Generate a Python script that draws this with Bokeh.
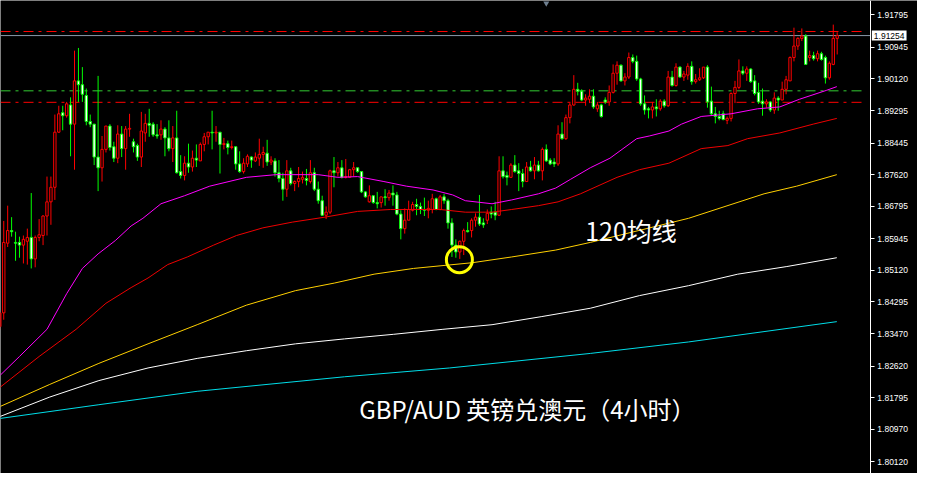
from bokeh.plotting import figure
from bokeh.models import Range1d, FixedTicker, PrintfTickFormatter, Label, ColumnDataSource
from bokeh.embed import file_html
from bokeh.resources import INLINE

# ---------------- data (GBP/AUD, 4h candles) ----------------
open_ = [1.8365,1.8401,1.8583,1.8616,1.8585,1.8585,1.8578,1.8588,1.8598,1.8542,
         1.8598,1.8603,1.8654,1.8691,1.8729,1.8873,1.8924,1.8916,1.8944,1.8894,
         1.9007,1.8997,1.8969,1.8901,1.8894,1.8808,1.8780,1.8828,1.8889,1.8835,
         1.8805,1.8868,1.8830,1.8881,1.8848,1.8838,1.8808,1.8871,1.8896,1.8894,
         1.8866,1.8866,1.8881,1.8858,1.8830,1.8858,1.8770,1.8760,1.8792,1.8782,
         1.8805,1.8798,1.8841,1.8861,1.8873,1.8871,1.8873,1.8841,1.8843,1.8833,
         1.8835,1.8790,1.8770,1.8790,1.8808,1.8798,1.8805,1.8815,1.8818,1.8795,
         1.8798,1.8767,1.8752,1.8724,1.8772,1.8739,1.8744,1.8750,1.8752,1.8744,
         1.8767,1.8724,1.8694,1.8656,1.8664,1.8772,1.8767,1.8780,1.8755,1.8755,
         1.8775,1.8780,1.8770,1.8717,1.8691,1.8707,1.8689,1.8689,1.8704,1.8702,
         1.8714,1.8709,1.8659,1.8621,1.8643,1.8669,1.8684,1.8679,1.8671,1.8669,
         1.8671,1.8699,1.8671,1.8704,1.8694,1.8636,1.8578,1.8560,1.8588,1.8616,
         1.8616,1.8643,1.8651,1.8636,1.8643,1.8664,1.8664,1.8656,1.8772,1.8760,
         1.8755,1.8787,1.8772,1.8765,1.8744,1.8782,1.8772,1.8787,1.8772,1.8828,
         1.8800,1.8795,1.8790,1.8868,1.8856,1.8911,1.8944,1.8985,1.8980,1.8957,
         1.8959,1.8967,1.8934,1.8944,1.8957,1.8952,1.8977,1.9027,1.9048,1.9007,
         1.9017,1.9068,1.9058,1.9012,1.8947,1.8934,1.8931,1.8939,1.8934,1.8954,
         1.8942,1.9017,1.8995,1.9043,1.9017,1.9022,1.9045,1.9005,1.9010,1.9015,
         1.9043,1.8954,1.8921,1.8914,1.8921,1.8904,1.8909,1.8974,1.8990,1.9033,
         1.9027,1.9038,1.9007,1.8977,1.8954,1.8947,1.8952,1.8931,1.8962,1.8957,
         1.8985,1.9007,1.9068,1.9098,1.9118,1.9124,1.9068,1.9073,1.9065,1.9078,
         1.9068,1.9015,1.9050,1.9118]
high = [1.8408,1.8641,1.8681,1.8651,1.8613,1.8600,1.8603,1.8621,1.8714,1.8603,
        1.8646,1.8656,1.8757,1.8757,1.8919,1.8942,1.8942,1.8952,1.8964,1.9086,
        1.9093,1.9043,1.8987,1.8919,1.8894,1.9020,1.8863,1.8889,1.8894,1.8848,
        1.8891,1.8889,1.8889,1.8921,1.8856,1.8843,1.8926,1.8921,1.8934,1.8899,
        1.8894,1.8904,1.8886,1.8904,1.8889,1.8929,1.8813,1.8810,1.8843,1.8825,
        1.8841,1.8846,1.8871,1.8873,1.8929,1.8889,1.8873,1.8858,1.8851,1.8851,
        1.8835,1.8823,1.8805,1.8815,1.8810,1.8820,1.8856,1.8835,1.8853,1.8810,
        1.8805,1.8800,1.8767,1.8800,1.8780,1.8747,1.8782,1.8770,1.8777,1.8800,
        1.8780,1.8744,1.8707,1.8679,1.8775,1.8808,1.8795,1.8800,1.8803,1.8777,
        1.8795,1.8780,1.8770,1.8719,1.8734,1.8707,1.8717,1.8704,1.8724,1.8722,
        1.8734,1.8717,1.8669,1.8674,1.8694,1.8691,1.8699,1.8689,1.8702,1.8694,
        1.8712,1.8702,1.8709,1.8712,1.8699,1.8648,1.8593,1.8590,1.8621,1.8638,
        1.8648,1.8661,1.8709,1.8648,1.8671,1.8679,1.8691,1.8810,1.8810,1.8770,
        1.8792,1.8813,1.8792,1.8777,1.8795,1.8798,1.8808,1.8798,1.8833,1.8841,
        1.8805,1.8805,1.8891,1.8899,1.8919,1.8949,1.9022,1.9002,1.8985,1.8972,
        1.8985,1.8985,1.8952,1.8947,1.8964,1.8995,1.9050,1.9058,1.9050,1.9027,
        1.9081,1.9076,1.9073,1.9015,1.8969,1.8939,1.8952,1.8959,1.8959,1.8959,
        1.9033,1.9033,1.9053,1.9045,1.9033,1.9053,1.9058,1.9025,1.9040,1.9043,
        1.9048,1.8992,1.8939,1.8929,1.8929,1.8914,1.8977,1.9007,1.9063,1.9045,
        1.9045,1.9040,1.9022,1.9002,1.8987,1.8959,1.8954,1.8977,1.8967,1.9005,
        1.9020,1.9071,1.9146,1.9121,1.9144,1.9129,1.9086,1.9083,1.9086,1.9083,
        1.9073,1.9058,1.9154,1.9134]
low = [1.8358,1.8383,1.8573,1.8600,1.8537,1.8545,1.8530,1.8527,1.8517,1.8520,
       1.8588,1.8578,1.8603,1.8631,1.8696,1.8871,1.8878,1.8911,1.8810,1.8775,
       1.8952,1.8952,1.8891,1.8886,1.8787,1.8719,1.8744,1.8820,1.8825,1.8795,
       1.8792,1.8808,1.8775,1.8861,1.8820,1.8798,1.8782,1.8848,1.8861,1.8861,
       1.8856,1.8853,1.8810,1.8823,1.8795,1.8765,1.8752,1.8747,1.8767,1.8770,
       1.8782,1.8798,1.8823,1.8841,1.8828,1.8848,1.8765,1.8828,1.8815,1.8828,
       1.8775,1.8767,1.8765,1.8782,1.8780,1.8795,1.8785,1.8780,1.8785,1.8787,
       1.8757,1.8742,1.8694,1.8704,1.8734,1.8719,1.8729,1.8739,1.8734,1.8739,
       1.8719,1.8686,1.8654,1.8646,1.8659,1.8729,1.8757,1.8752,1.8752,1.8755,
       1.8757,1.8767,1.8714,1.8702,1.8689,1.8686,1.8674,1.8676,1.8681,1.8694,
       1.8681,1.8656,1.8593,1.8608,1.8643,1.8666,1.8656,1.8659,1.8654,1.8648,
       1.8661,1.8669,1.8669,1.8686,1.8621,1.8547,1.8545,1.8542,1.8552,1.8611,
       1.8598,1.8626,1.8628,1.8623,1.8633,1.8648,1.8643,1.8654,1.8752,1.8734,
       1.8755,1.8767,1.8719,1.8729,1.8744,1.8770,1.8750,1.8770,1.8747,1.8795,
       1.8787,1.8782,1.8785,1.8853,1.8853,1.8896,1.8942,1.8969,1.8954,1.8942,
       1.8949,1.8934,1.8926,1.8911,1.8947,1.8942,1.8974,1.8997,1.9005,1.8995,
       1.9012,1.9053,1.9007,1.8942,1.8919,1.8909,1.8909,1.8914,1.8929,1.8937,
       1.8939,1.8992,1.8992,1.9015,1.9007,1.9010,1.8997,1.9000,1.9007,1.9012,
       1.8937,1.8916,1.8896,1.8904,1.8904,1.8894,1.8901,1.8949,1.8985,1.9022,
       1.9007,1.9002,1.8969,1.8947,1.8916,1.8937,1.8926,1.8921,1.8929,1.8957,
       1.8972,1.9007,1.9058,1.9088,1.9111,1.9050,1.9058,1.9060,1.9058,1.9060,
       1.9000,1.9010,1.9048,1.9076]
close = [1.8401,1.8585,1.8616,1.8613,1.8583,1.8578,1.8593,1.8598,1.8542,1.8598,
         1.8605,1.8654,1.8691,1.8729,1.8873,1.8921,1.8916,1.8947,1.8894,1.9007,
         1.8997,1.8972,1.8901,1.8894,1.8808,1.8780,1.8828,1.8889,1.8833,1.8805,
         1.8868,1.8830,1.8881,1.8883,1.8835,1.8808,1.8876,1.8896,1.8891,1.8866,
         1.8863,1.8881,1.8858,1.8830,1.8858,1.8767,1.8760,1.8792,1.8782,1.8805,
         1.8800,1.8841,1.8861,1.8873,1.8871,1.8873,1.8841,1.8843,1.8833,1.8835,
         1.8790,1.8770,1.8792,1.8810,1.8800,1.8808,1.8815,1.8820,1.8795,1.8800,
         1.8767,1.8752,1.8724,1.8772,1.8739,1.8744,1.8752,1.8755,1.8747,1.8767,
         1.8724,1.8694,1.8656,1.8664,1.8772,1.8767,1.8780,1.8755,1.8757,1.8775,
         1.8780,1.8770,1.8717,1.8704,1.8707,1.8689,1.8686,1.8704,1.8702,1.8714,
         1.8709,1.8659,1.8621,1.8643,1.8671,1.8684,1.8679,1.8671,1.8669,1.8674,
         1.8699,1.8671,1.8704,1.8694,1.8636,1.8578,1.8560,1.8588,1.8616,1.8613,
         1.8643,1.8651,1.8633,1.8631,1.8661,1.8659,1.8656,1.8772,1.8757,1.8755,
         1.8787,1.8770,1.8765,1.8744,1.8782,1.8772,1.8787,1.8772,1.8828,1.8798,
         1.8790,1.8790,1.8868,1.8856,1.8911,1.8944,1.8985,1.8980,1.8957,1.8962,
         1.8967,1.8939,1.8944,1.8914,1.8952,1.8977,1.9027,1.9048,1.9007,1.9017,
         1.9068,1.9058,1.9012,1.8947,1.8931,1.8931,1.8939,1.8934,1.8954,1.8942,
         1.9017,1.8995,1.9043,1.9017,1.9025,1.9045,1.9005,1.9010,1.9015,1.9043,
         1.8952,1.8921,1.8914,1.8909,1.8906,1.8909,1.8974,1.8990,1.9033,1.9027,
         1.9038,1.9005,1.8974,1.8952,1.8947,1.8952,1.8931,1.8962,1.8957,1.8985,
         1.9010,1.9068,1.9098,1.9118,1.9124,1.9050,1.9073,1.9065,1.9078,1.9063,
         1.9015,1.9053,1.9118,1.91254]

# moving averages (bar index, price)
ma_magenta_x = [0, 5, 12, 17, 21, 25, 29.4, 33.4, 36.4, 41, 47, 53.4, 62.7, 70.2, 81, 86, 91,
                97.7, 103.4, 110.2, 115.2, 118.4, 125.2, 130.2, 137, 141.4, 145.2, 150.2,
                155.2, 162, 165.2, 170.2, 173.4, 178.4, 186, 192.7, 198.4, 203.4, 210.2, 212.9]
ma_magenta_y = [1.8237, 1.8287, 1.8358, 1.8451, 1.8517, 1.8555, 1.8590, 1.8628, 1.8648, 1.8686,
                1.8707, 1.8732, 1.8755, 1.8762, 1.8762, 1.8755, 1.8757, 1.8744, 1.8732, 1.8722,
                1.8709, 1.8694, 1.8686, 1.8696, 1.8712, 1.8727, 1.8750, 1.8780, 1.8805, 1.8856,
                1.8863, 1.8876, 1.8894, 1.8914, 1.8921, 1.8934, 1.8939, 1.8959, 1.8982, 1.8992]
ma_red_x = [0, 10, 19.4, 27, 33.4, 37.7, 42.7, 47.7, 54.4, 60.2, 66.9, 74.4, 82.7, 91, 99.4,
            112, 118.4, 125.2, 130.2, 137, 142, 147.7, 157, 162.7, 170.2, 178.4, 185.2, 190.2,
            198.4, 206.9, 212.9]
ma_red_y = [1.8206, 1.8287, 1.8358, 1.8426, 1.8467, 1.8492, 1.8527, 1.8547, 1.8578, 1.8603,
            1.8623, 1.8638, 1.8651, 1.8666, 1.8671, 1.8671, 1.8664, 1.8664, 1.8671, 1.8681,
            1.8691, 1.8712, 1.8755, 1.8775, 1.8792, 1.8830, 1.8838, 1.8856, 1.8871, 1.8894,
            1.8909]
ma_yellow_x = [0, 12.7, 25.2, 37.7, 50.2, 62.7, 75.2, 85.2, 95.2, 105.2, 120.2, 130.2, 141.4,
               150.2, 175.2, 194.4, 202.7, 212.9]
ma_yellow_y = [1.8156, 1.8214, 1.8269, 1.8320, 1.8370, 1.8421, 1.8459, 1.8479, 1.8502, 1.8517,
               1.8532, 1.8547, 1.8565, 1.8585, 1.8648, 1.8712, 1.8732, 1.8762]
ma_white_x = [0, 12.7, 25.2, 37.7, 50.2, 62.7, 75.2, 87.7, 100.2, 112.7, 125.2, 137.7, 150.2,
              162.7, 175.2, 187.7, 200.2, 212.9]
ma_white_y = [1.8130, 1.8181, 1.8224, 1.8257, 1.8282, 1.8302, 1.8320, 1.8333, 1.8345, 1.8358,
              1.8370, 1.8391, 1.8413, 1.8446, 1.8472, 1.8502, 1.8522, 1.8545]
ma_cyan_x = [0, 25.2, 50.2, 87.7, 114.4, 150.2, 175.2, 212.9]
ma_cyan_y = [1.8125, 1.8161, 1.8196, 1.8234, 1.8257, 1.8295, 1.8325, 1.8378]

price_ticks = [1.91795, 1.90945, 1.90120, 1.89295, 1.88445, 1.87620, 1.86795, 1.85945,
               1.85120, 1.84295, 1.83470, 1.82620, 1.81795, 1.80970, 1.80120]
current_price = 1.91254
level_red_top = 1.9136
level_green = 1.8981
level_red_low = 1.8951
circle_bar, circle_price = 116.9, 1.8540
label_ma = "120均线"
label_ma_bar, label_ma_price = 148.9, 1.8618
title_text = "GBP/AUD 英镑兑澳元（4小时）"
title_bar, title_price = 91.4, 1.8150

# chart geometry in bar / price units
bar_first, bar_last_visible = 0.175, 233.425     # window edges
price_axis_bar = 221.425                          # where the price scale sits
levels_end_bar = 220.2                            # dashed levels stop just before the scale
shift_marker_bar = 139.0                          # small chart-shift marker on top

# ---------------- figure ----------------
W, H = 917, 473
p = figure(width=W, height=H, output_backend="svg", toolbar_location=None,
           x_range=Range1d(bar_first, bar_last_visible), y_range=Range1d(1.79813, 1.92170),
           x_axis_location=None, y_axis_location="right",
           background_fill_color="black", border_fill_color="black",
           min_border_left=0, min_border_top=0, min_border_bottom=0, min_border_right=0)
p.outline_line_color = None
p.xgrid.visible = False
p.ygrid.visible = False

ax = p.yaxis[0]
ax.fixed_location = price_axis_bar
ax.ticker = FixedTicker(ticks=price_ticks)
ax.formatter = PrintfTickFormatter(format="%.5f")
ax.axis_line_color = "white"
ax.major_tick_line_color = "white"
ax.major_tick_out = 4
ax.major_tick_in = 0
ax.minor_tick_line_color = None
ax.major_label_standoff = 3
ax.major_label_text_color = "white"
ax.major_label_text_font = "Liberation Sans"
ax.major_label_text_font_size = "8.5px"

# horizontal levels
lv = ColumnDataSource(dict(x0=[bar_first] * 3, x1=[levels_end_bar] * 3,
                           y=[level_red_top, level_green, level_red_low],
                           c=["#ff0000", "#33cc33", "#ff0000"]))
p.segment(x0="x0", y0="y", x1="x1", y1="y", line_color="c", line_dash="10 5 3 5",
          line_width=1, source=lv)
p.segment(x0=[bar_first], y0=[current_price], x1=[price_axis_bar], y1=[current_price],
          line_color="#8a98a8", line_width=1)

# candles
xs = list(range(len(open_)))
up = [c > o for o, c in zip(open_, close)]
src = ColumnDataSource(dict(
    x=xs, high=high, low=low,
    top=[max(o, c) for o, c in zip(open_, close)],
    bottom=[min(o, c) for o, c in zip(open_, close)],
    line=["#ff0000" if u else "#00ff00" for u in up],
    fill=["#000000" if u else "#ffffff" for u in up],
))
p.segment(x0="x", y0="high", x1="x", y1="low", color="line", line_width=1, source=src)
p.vbar(x="x", top="top", bottom="bottom", width=0.6, fill_color="fill",
       line_color="line", line_width=1, source=src)

# moving averages
p.line(ma_cyan_x, ma_cyan_y, line_color="#00dde8", line_width=1)
p.line(ma_white_x, ma_white_y, line_color="#ffffff", line_width=1)
p.line(ma_yellow_x, ma_yellow_y, line_color="#ffd000", line_width=1)
p.line(ma_red_x, ma_red_y, line_color="#ee0000", line_width=1)
p.line(ma_magenta_x, ma_magenta_y, line_color="#ff00ff", line_width=1)

# annotations
p.scatter([circle_bar], [circle_price], marker="circle", size=26, fill_alpha=0,
          line_color="#ffff00", line_width=3)
p.scatter([shift_marker_bar], [1.9210], marker="inverted_triangle", size=6,
          fill_color="#6f7f8f", line_color=None)
p.add_layout(Label(x=label_ma_bar, y=label_ma_price, text=label_ma, text_color="white",
                   text_font="Noto Sans CJK SC", text_font_size="25px",
                   text_baseline="alphabetic"))
p.add_layout(Label(x=title_bar, y=title_price, text=title_text, text_color="white",
                   text_font="Noto Sans CJK SC", text_font_size="24px",
                   text_baseline="alphabetic"))
p.add_layout(Label(x=price_axis_bar, y=current_price, x_offset=1.5, text="1.91254",
                   text_color="black", text_font="Liberation Sans", text_font_size="8.5px",
                   text_baseline="middle", background_fill_color="white", padding=2))

open("out.html", "w").write(file_html(p, INLINE))
